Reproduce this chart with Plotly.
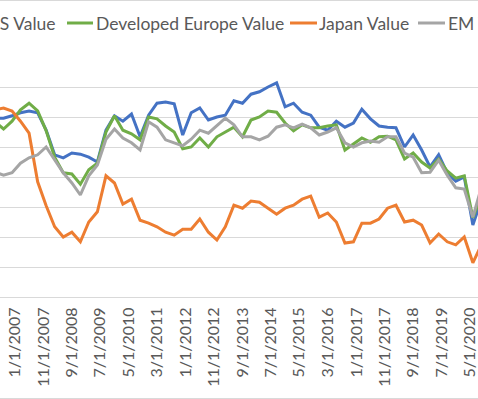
import pandas as pd
import plotly.graph_objects as go

# quarterly observation dates (Jun 2006 .. Sep 2020)
dates = pd.date_range("2006-06-01", "2020-09-01", freq="3MS")

us_value = [2.98, 2.98, 3.02, 3.07, 3.10, 3.07, 2.78, 2.37, 2.32, 2.40,
            2.38, 2.33, 2.25, 2.78, 3.02, 2.93, 3.05, 2.67, 3.03, 3.23,
            3.25, 3.22, 2.70, 3.07, 3.15, 2.95, 3.00, 3.03, 3.27, 3.23,
            3.38, 3.42, 3.50, 3.57, 3.17, 3.23, 3.08, 3.03, 2.83, 2.78,
            2.93, 2.83, 2.90, 3.13, 2.97, 2.85, 2.83, 2.82, 2.50, 2.70,
            2.45, 2.17, 2.37, 2.07, 1.93, 2.00, 1.20, 1.62]
dev_europe_value = [2.92, 2.80, 2.93, 3.12, 3.23, 3.10, 2.77, 2.33, 2.07, 2.05,
                    1.88, 2.12, 2.23, 2.75, 3.02, 2.78, 2.72, 2.62, 3.00, 2.97,
                    2.85, 2.75, 2.47, 2.50, 2.65, 2.50, 2.67, 2.75, 2.83, 2.67,
                    2.95, 3.00, 3.10, 3.08, 2.90, 2.77, 2.87, 2.82, 2.82, 2.85,
                    2.87, 2.45, 2.55, 2.65, 2.58, 2.67, 2.68, 2.62, 2.30, 2.40,
                    2.25, 2.15, 2.30, 2.10, 1.98, 2.02, 1.32, 1.70]
japan_value = [3.12, 3.15, 3.10, 2.93, 2.73, 1.92, 1.52, 1.17, 1.00, 1.08,
               0.92, 1.25, 1.42, 2.02, 1.90, 1.55, 1.63, 1.28, 1.23, 1.17,
               1.08, 1.03, 1.13, 1.13, 1.30, 1.08, 0.95, 1.17, 1.53, 1.48,
               1.60, 1.58, 1.48, 1.38, 1.48, 1.53, 1.63, 1.68, 1.33, 1.40,
               1.25, 0.90, 0.92, 1.23, 1.23, 1.30, 1.48, 1.53, 1.25, 1.28,
               1.20, 0.90, 1.05, 0.92, 0.87, 1.00, 0.57, 0.87]
em_value = [2.08, 2.03, 2.07, 2.23, 2.32, 2.37, 2.50, 2.28, 2.07, 1.90,
            1.70, 2.02, 2.20, 2.63, 2.80, 2.65, 2.57, 2.45, 2.92, 2.83,
            2.62, 2.57, 2.52, 2.63, 2.78, 2.73, 2.85, 2.98, 2.87, 2.67,
            2.67, 2.62, 2.68, 2.83, 2.87, 2.82, 2.88, 2.82, 2.70, 2.75,
            2.82, 2.57, 2.50, 2.57, 2.60, 2.58, 2.67, 2.67, 2.40, 2.33,
            2.07, 2.08, 2.28, 2.03, 1.82, 1.80, 1.33, 1.83]

series_names = ["US Value", "Developed Europe Value", "Japan Value", "EM Value"]
series_colors = ["#4472C4", "#70AD47", "#ED7D31", "#A5A5A5"]
series_values = [us_value, dev_europe_value, japan_value, em_value]

tick_labels = ["1/1/2007", "11/1/2007", "9/1/2008", "7/1/2009", "5/1/2010",
               "3/1/2011", "1/1/2012", "11/1/2012", "9/1/2013", "7/1/2014",
               "5/1/2015", "3/1/2016", "1/1/2017", "11/1/2017", "9/1/2018",
               "7/1/2019", "5/1/2020"]
tick_vals = pd.to_datetime(tick_labels, format="%m/%d/%Y")

FONT = "Lato, 'Open Sans', sans-serif"
TXT = "#595959"
GRID = "#D9D9D9"

fig = go.Figure()
for name, col, vals in zip(series_names, series_colors, series_values):
    fig.add_trace(go.Scatter(x=dates, y=vals, mode="lines", name=name,
                             line=dict(color=col, width=3), showlegend=False))

W, H = 478, 399
T, B = 57, 102
PH = H - T - B

def py(ypx):
    # pixel row -> paper y
    return 1 + (T - ypx) / PH

# legend drawn as line samples + labels (legend is cropped at both ends)
leg_y = 23
samples = [(None, None), (67, 93), (290, 317), (418, 445)]
label_pos = [(57, "right"), (95, "left"), (318, "left"), (447, "left")]
for (x0, x1), (lx, anc), name, col in zip(samples, label_pos, series_names, series_colors):
    if x0 is not None:
        fig.add_shape(type="line", xref="paper", yref="paper",
                      x0=x0 / W, x1=x1 / W, y0=py(leg_y), y1=py(leg_y),
                      line=dict(color=col, width=3))
    fig.add_annotation(xref="paper", yref="paper", x=lx / W, y=py(leg_y),
                       xanchor=anc, yanchor="middle", text=name, showarrow=False,
                       font=dict(family=FONT, size=17.5, color=TXT), borderpad=0)

# chart-area border (top and bottom visible)
for yy in (0.5, 398.5):
    fig.add_shape(type="line", xref="paper", yref="paper", x0=0, x1=1,
                  y0=py(yy), y1=py(yy), line=dict(color=GRID, width=1))

fig.update_layout(
    width=W, height=H,
    margin=dict(l=0, r=0, t=T, b=B, autoexpand=False),
    paper_bgcolor="white", plot_bgcolor="white",
    font=dict(family=FONT, color=TXT),
    showlegend=False,
    xaxis=dict(type="date", range=["2006-07-25", "2020-07-26"],
               tickvals=tick_vals, ticktext=tick_labels, tickangle=-90,
               showgrid=False, showline=True, linecolor=GRID, linewidth=1,
               ticks="", ticklabelstandoff=3, ticklabeloverflow="allow",
               tickfont=dict(family=FONT, size=16, color=TXT),
               automargin=False, zeroline=False),
    yaxis=dict(range=[0, 4], dtick=0.5, tick0=0, showgrid=True, gridcolor=GRID,
               gridwidth=1, showticklabels=False, zeroline=False,
               showline=False, automargin=False),
)

fig.write_html("out.html", config={"displayModeBar": False},
               post_script="document.body.style.margin='0';document.body.style.overflow='hidden';")
